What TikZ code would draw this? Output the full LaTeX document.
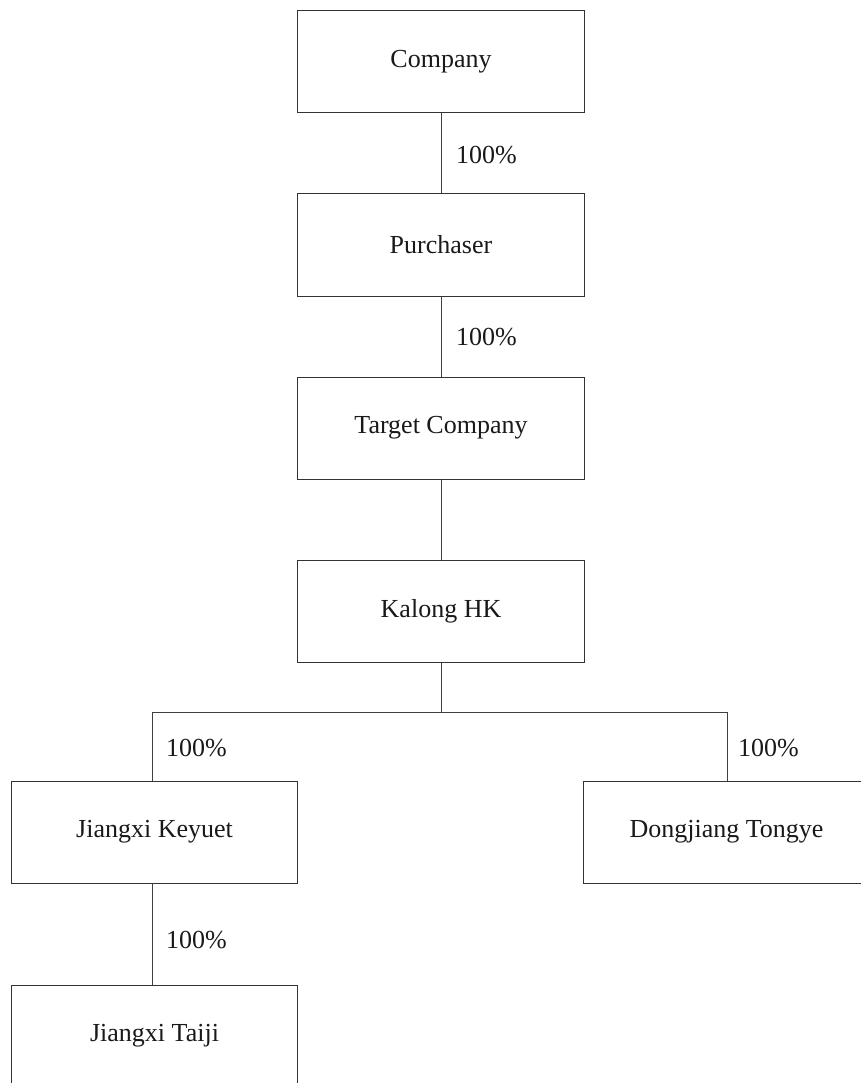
\documentclass[tikz,border=0pt]{standalone}
\usepackage{fontspec}
\setmainfont{Liberation Serif}
\begin{document}
\begin{tikzpicture}[x=1pt,y=1pt,
  entity/.style={draw=black!80, line width=1pt, minimum width=286.5pt, minimum height=102pt, inner sep=0pt, text=black!90, font=\fontsize{26}{30}\selectfont},
  link/.style={draw=black!75, line width=1pt},
  pct/.style={anchor=west, inner sep=0pt, text=black!90, font=\fontsize{26}{30}\selectfont}]
\useasboundingbox (0,0) rectangle (860,-1083);
\node[entity] (company) at (441,-62) {Company};
\node[entity] (purchaser) at (441,-245) {Purchaser};
\node[entity] (target) at (441,-428) {Target Company};
\node[entity] (kalong) at (441,-611) {Kalong HK};
\node[entity] (keyuet) at (154.5,-832) {Jiangxi Keyuet};
\node[entity] (dongjiang) at (726.5,-832) {Dongjiang Tongye};
\node[entity] (taiji) at (154.5,-1036) {Jiangxi Taiji};
\coordinate (busL) at (152,-712);
\coordinate (busR) at (727,-712);
\coordinate (busM) at (441,-712);
\draw[link] (company) -- (purchaser);
\draw[link] (purchaser) -- (target);
\draw[link] (target) -- (kalong);
\draw[link] (kalong.south) -- (busM);
\draw[link] (busL |- keyuet.north) -- (busL) -- (busR) -- (busR |- dongjiang.north);
\draw[link] (busL |- keyuet.south) -- (busL |- taiji.north);
\node[pct] (p1) at (456,-155) {100\%};
\node[pct] (p2) at (456,-337) {100\%};
\node[pct] (p3) at (166,-748) {100\%};
\node[pct] (p4) at (738,-748) {100\%};
\node[pct] (p5) at (166,-940) {100\%};
\end{tikzpicture}
\end{document}
